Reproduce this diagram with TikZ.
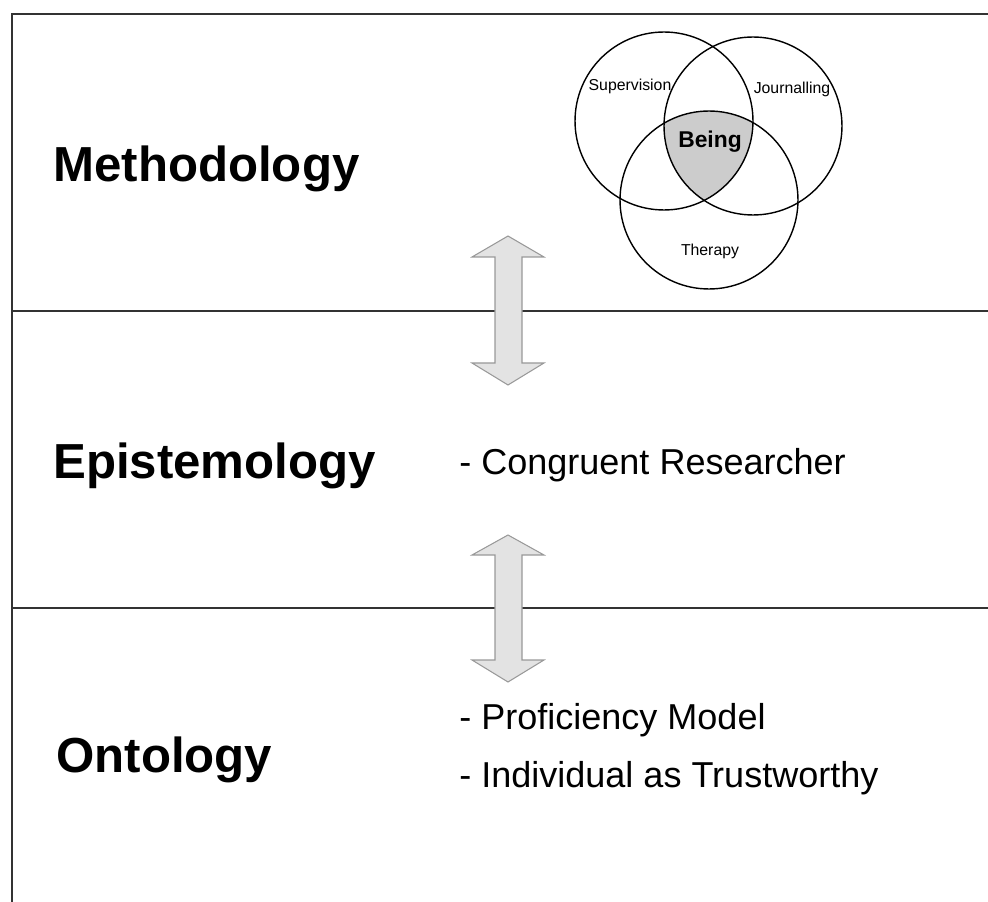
\documentclass[tikz,border=0pt]{standalone}
\usepackage{fontspec}
\setmainfont{Liberation Sans}
\usepackage{xcolor}
\usepackage{tikz}

\begin{document}
\begin{tikzpicture}[x=0.02cm, y=-0.02cm]
    \tikzstyle{layer} = [anchor=west, inner sep=0pt, font=\fontsize{28}{32}\selectfont\bfseries]
    \tikzstyle{item} = [anchor=west, inner sep=0pt, font=\fontsize{20.5}{24}\selectfont]
    \tikzstyle{venn} = [circle, draw=black, line width=0.8pt, minimum size=3.56cm, inner sep=0pt]
    \tikzstyle{vennlabel} = [inner sep=0pt, font=\fontsize{9}{11}\selectfont]
    \tikzstyle{frameline} = [draw=black!80, line width=1pt]
    \tikzstyle{blockarrow} = [fill=gray!22, draw=gray!80, line width=0.6pt]

    \useasboundingbox (0,0) rectangle (988,902);

    % Frame and layers
    \draw [frameline] (12,902) -- (12,14) -- (988,14);
    \draw [frameline] (12,311) -- (988,311);
    \draw [frameline] (12,608) -- (988,608);

    % Layer names
    \node [layer] (method) at (53,169) {Methodology};
    \node [layer] (episte) at (53,466) {Epistemology};
    \node [layer] (onto) at (56,760) {Ontology};

    % Items
    \node [item] (congruent) at (459,465) {- Congruent Researcher};
    \node [item] (proficiency) at (459,720) {- Proficiency Model};
    \node [item] (trustworthy) at (459,778) {- Individual as Trustworthy};

    % Venn diagram
    \begin{scope}
        \clip (664,121) circle [radius=1.78cm];
        \clip (753,126) circle [radius=1.78cm];
        \fill [gray!40] (709,200) circle [radius=1.78cm];
    \end{scope}
    \node [venn] (supervision) at (664,121) {};
    \node [venn] (journalling) at (753,126) {};
    \node [venn] (therapy) at (709,200) {};
    \node [vennlabel] (sup_label) at (630,86) {Supervision};
    \node [vennlabel] (jou_label) at (792,89) {Journalling};
    \node [vennlabel] (the_label) at (710,251) {Therapy};
    \node [vennlabel, font=\fontsize{13}{15}\selectfont\bfseries] (being) at (710,142) {Being};

    % Arrows between layers
    \draw [blockarrow] (508,236) -- (544,257) -- (522,257) -- (522,363) -- (544,363) -- (508,385)
        -- (472,363) -- (495,363) -- (495,257) -- (472,257) -- cycle;
    \draw [blockarrow] (508,535) -- (544,555) -- (522,555) -- (522,660) -- (544,660) -- (508,682)
        -- (472,660) -- (495,660) -- (495,555) -- (472,555) -- cycle;
\end{tikzpicture}
\end{document}
